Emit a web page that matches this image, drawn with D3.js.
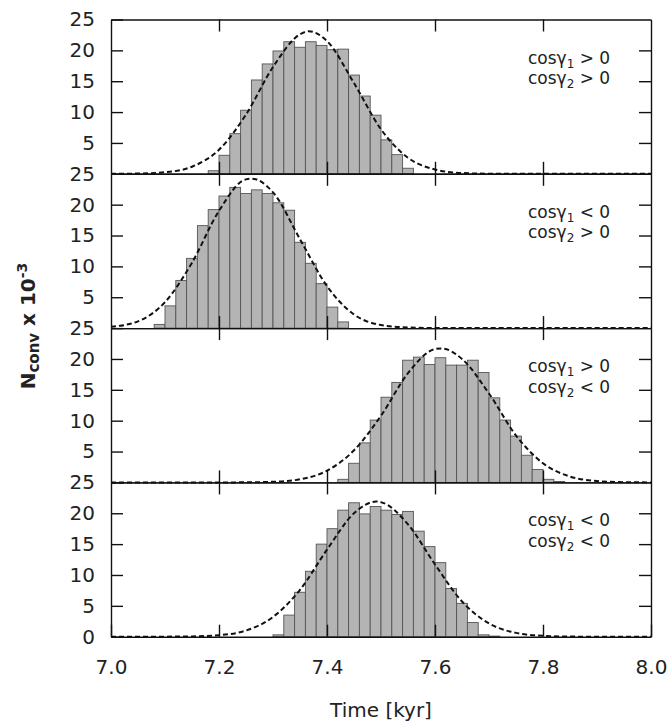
<!DOCTYPE html>
<html>
<head>
<meta charset="utf-8">
<script src="https://cdn.jsdelivr.net/npm/d3@7"></script>
<style>
  body { margin: 0; background: #fff; }
  svg { display: block; }
</style>
</head>
<body>
<div id="chart"></div>
<script>
// histogram bins (left edge, kyr) and counts (x 10^-3) for the four sign cases
const bins1 = [7.18, 7.20, 7.22, 7.24, 7.26, 7.28, 7.30, 7.32, 7.34, 7.36, 7.38, 7.40, 7.42, 7.44, 7.46, 7.48, 7.50, 7.52, 7.54];
const counts1 = [0.5, 3.0, 6.5, 10.3, 15.2, 17.8, 19.9, 21.4, 20.5, 21.4, 20.8, 20.1, 20.2, 16.0, 12.6, 9.5, 5.5, 3.1, 0.9];

const bins2 = [7.08, 7.10, 7.12, 7.14, 7.16, 7.18, 7.20, 7.22, 7.24, 7.26, 7.28, 7.30, 7.32, 7.34, 7.36, 7.38, 7.40, 7.42];
const counts2 = [0.6, 3.6, 7.7, 11.3, 16.6, 19.2, 21.4, 22.8, 21.8, 22.4, 21.8, 20.3, 19.1, 13.9, 10.5, 7.2, 3.4, 1.0];

const bins3 = [7.42, 7.44, 7.46, 7.48, 7.50, 7.52, 7.54, 7.56, 7.58, 7.60, 7.62, 7.64, 7.66, 7.68, 7.70, 7.72, 7.74, 7.76, 7.78, 7.80, 7.82];
const counts3 = [0.5, 3.1, 6.4, 10.1, 13.8, 16.2, 19.8, 20.3, 19.1, 20.2, 19.0, 19.0, 19.8, 17.8, 13.7, 10.1, 7.5, 4.4, 2.1, 0.5, 0.15];

const bins4 = [7.30, 7.32, 7.34, 7.36, 7.38, 7.40, 7.42, 7.44, 7.46, 7.48, 7.50, 7.52, 7.54, 7.56, 7.58, 7.60, 7.62, 7.64, 7.66, 7.68, 7.70];
const counts4 = [0.3, 3.5, 7.2, 10.6, 15.0, 17.5, 20.5, 21.7, 19.9, 21.1, 20.5, 19.8, 20.3, 17.1, 14.6, 12.0, 7.8, 5.4, 2.3, 0.3, 0.1];

// dashed fit curves
const fitTimes = [7.00, 7.05, 7.10, 7.15, 7.20, 7.25, 7.30, 7.35, 7.40, 7.45, 7.50, 7.55, 7.60, 7.65, 7.70, 7.75, 7.80, 7.85, 7.90, 7.95, 8.00];
const fit1 = [0.0, 0.04, 0.25, 1.15, 3.9, 9.6, 17.3, 22.6, 21.5, 14.7, 7.2, 2.6, 0.7, 0.13, 0.02, 0, 0, 0, 0, 0, 0];
const fit2 = [0.22, 1.1, 4.2, 10.6, 19.0, 24.1, 22.0, 14.4, 6.8, 2.2, 0.5, 0.1, 0.01, 0, 0, 0, 0, 0, 0, 0, 0];
const fit3 = [0, 0, 0, 0, 0, 0.01, 0.1, 0.5, 1.9, 5.2, 10.8, 17.7, 21.6, 20.0, 14.4, 7.6, 3.1, 0.95, 0.22, 0.04, 0];
const fit4 = [0, 0, 0.01, 0.05, 0.24, 1.0, 3.2, 7.6, 14.1, 20.0, 21.8, 18.2, 11.7, 5.7, 2.15, 0.62, 0.14, 0.02, 0, 0, 0];
const fitPeaks = [[7.366, 23.1], [7.261, 24.2], [7.612, 21.7], [7.491, 21.9]];

// panel annotations: sign of cos(gamma1), cos(gamma2)
const signsGamma1 = [">", "<", ">", "<"];
const signsGamma2 = [">", ">", "<", "<"];

const xTicks = [7.0, 7.2, 7.4, 7.6, 7.8, 8.0];
const yTicks = [5, 10, 15, 20, 25];
const binWidth = 0.02;

const panels = [
  { bins: bins1, counts: counts1, fit: fit1 },
  { bins: bins2, counts: counts2, fit: fit2 },
  { bins: bins3, counts: counts3, fit: fit3 },
  { bins: bins4, counts: counts4, fit: fit4 }
];

const width = 672, height = 722;
const plotLeft = 111, plotRight = 651;
const panelTop = 19.5, panelH = 154.3;
const font = "'DejaVu Sans', Verdana, sans-serif";

const svg = d3.select("#chart")
  .append("svg")
  .attr("width", width)
  .attr("height", height);

const x = d3.scaleLinear()
  .domain([7, 8])
  .range([plotLeft, plotRight]);

panels.forEach((p, i) => {
  const top = panelTop + i * panelH;
  const y = d3.scaleLinear()
    .domain([0, 25])
    .range([top + panelH, top]);

  const g = svg.append("g");

  // bars
  g.append("g")
    .selectAll("rect")
    .data(p.bins.map((b, j) => ({ t: b, n: p.counts[j] })))
    .join("rect")
    .attr("x", d => x(d.t))
    .attr("width", d => x(d.t + binWidth) - x(d.t))
    .attr("y", d => y(d.n))
    .attr("height", d => y(0) - y(d.n))
    .attr("fill", "#b4b4b4")
    .attr("stroke", "#555")
    .attr("stroke-width", 0.9);

  // fit curve
  const pts = fitTimes.map((t, j) => [t, p.fit[j]]);
  pts.push(fitPeaks[i]);
  pts.sort((a, b) => a[0] - b[0]);

  const line = d3.line()
    .x(d => x(d[0]))
    .y(d => y(d[1]))
    .curve(d3.curveMonotoneX);

  g.append("path")
    .datum(pts)
    .attr("d", line)
    .attr("fill", "none")
    .attr("stroke", "#111")
    .attr("stroke-width", 2)
    .attr("stroke-dasharray", "5,3");

  // axes, ticks pointing inwards on all four sides
  const isLast = i === panels.length - 1;

  const left = g.append("g")
    .attr("transform", `translate(${plotLeft},0)`)
    .call(d3.axisLeft(y)
      .tickValues(isLast ? [0].concat(yTicks) : yTicks)
      .tickSizeInner(-12)
      .tickSizeOuter(0)
      .tickPadding(16));

  const right = g.append("g")
    .attr("transform", `translate(${plotRight},0)`)
    .call(d3.axisRight(y)
      .tickValues(yTicks.slice(0, 4))
      .tickSizeInner(-12)
      .tickSizeOuter(0)
      .tickFormat(""));

  const topAx = g.append("g")
    .attr("transform", `translate(0,${top})`)
    .call(d3.axisTop(x)
      .tickValues(xTicks.slice(1, 5))
      .tickSizeInner(-12)
      .tickSizeOuter(0)
      .tickFormat(""));

  const bottom = g.append("g")
    .attr("transform", `translate(0,${top + panelH})`)
    .call(d3.axisBottom(x)
      .tickValues(isLast ? xTicks : xTicks.slice(1, 5))
      .tickSizeInner(-12)
      .tickSizeOuter(0)
      .tickPadding(23)
      .tickFormat(isLast ? d3.format(".1f") : ""));

  [left, right, topAx, bottom].forEach(a => {
    a.selectAll("path, line")
      .attr("stroke", "#111")
      .attr("stroke-width", 1.4);
    a.selectAll("text")
      .attr("font-family", font)
      .attr("font-size", 20)
      .attr("fill", "#222");
  });

  // annotation
  const note = g.append("g")
    .attr("font-family", font)
    .attr("font-size", 17)
    .attr("fill", "#222");

  [[signsGamma1[i], "1"], [signsGamma2[i], "2"]].forEach(([s, k], j) => {
    const t = note.append("text")
      .attr("x", 528)
      .attr("y", top + 44 + j * 20.5);
    t.append("tspan").text("cosγ");
    t.append("tspan").attr("font-size", 12).attr("dy", 4).text(k);
    t.append("tspan").attr("dy", -4).text(` ${s} 0`);
  });
});

// axis titles
svg.append("text")
  .attr("x", (plotLeft + plotRight) / 2)
  .attr("y", 717)
  .attr("text-anchor", "middle")
  .attr("font-family", font)
  .attr("font-size", 20)
  .attr("fill", "#222")
  .text("Time [kyr]");

const ylab = svg.append("text")
  .attr("transform", "translate(28,326) rotate(-90)")
  .attr("y", 7)
  .attr("text-anchor", "middle")
  .attr("font-family", font)
  .attr("font-size", 20)
  .attr("font-weight", "bold")
  .attr("fill", "#222");
ylab.append("tspan").text("N");
ylab.append("tspan").attr("font-size", 15).attr("dy", 4).text("conv");
ylab.append("tspan").attr("dy", -4).text(" x 10");
ylab.append("tspan").attr("font-size", 14).attr("dy", -8).text("-3");
</script>
</body>
</html>
